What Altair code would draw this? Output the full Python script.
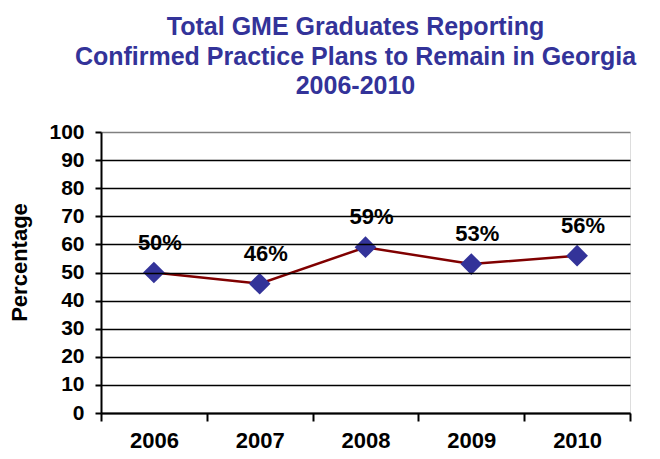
import altair as alt
import pandas as pd

years = ["2006", "2007", "2008", "2009", "2010"]
pct = [50, 46, 59, 53, 56]
y_ticks = [0, 10, 20, 30, 40, 50, 60, 70, 80, 90, 100]

df = pd.DataFrame({"year": years, "pct": pct})

FONT = "Liberation Sans"
NB = "\u00a0"

x_enc = alt.X(
    "year:N",
    sort=years,
    scale=alt.Scale(type="band", paddingInner=0, paddingOuter=0),
    axis=alt.Axis(
        title=None,
        labelAngle=0,
        labelFont=FONT,
        labelFontSize=22,
        labelFontWeight="bold",
        labelColor="black",
        labelPadding=9,
        tickBand="extent",
        tickSize=8,
        tickWidth=2,
        tickColor="black",
        domainColor="black",
        domainWidth=2,
        grid=False,
        zindex=1,
    ),
)

y_enc = alt.Y(
    "pct:Q",
    scale=alt.Scale(domain=[0, 100], nice=False, zero=True),
    axis=alt.Axis(
        values=y_ticks,
        title="Percentage",
        titleFont=FONT,
        titleFontSize=22,
        titleFontWeight="bold",
        titleColor="black",
        titleAngle=270,
        titleAlign="center",
        titleBaseline="middle",
        titleX=-82,
        titleY=130,
        labelFont=FONT,
        labelFontSize=21,
        labelFontWeight="bold",
        labelColor="black",
        labelPadding=11,
        tickSize=6,
        tickWidth=2,
        tickColor="black",
        domainColor="black",
        domainWidth=2,
        grid=True,
        gridColor={"condition": {"test": "datum.value == 100", "value": "#808080"}, "value": "black"},
        gridWidth=1.6,
        zindex=1,
    ),
)

base = alt.Chart(df).encode(x=x_enc, y=y_enc)

line = base.mark_line(color="#800000", strokeWidth=2.5)
points = base.mark_point(
    shape="diamond", size=470, filled=True, color="#333399", opacity=1
)
labels = base.transform_calculate(label="datum.pct + '%'").mark_text(
    font=FONT, fontSize=22, fontWeight="bold", color="black", dx=6, dy=-30,
    baseline="middle",
).encode(text="label:N")

chart = (
    alt.layer(line, points, labels)
    .properties(
        width=529,
        height=281,
        autosize=alt.AutoSizeParams(type="none"),
        padding={"left": 93, "top": 124, "right": 22, "bottom": 38},
        title=alt.Title(
            text=[
                "Total GME Graduates Reporting" + NB * 3,
                "Confirmed Practice Plans to Remain in Georgia",
                "2006-2010",
            ],
            font=FONT,
            fontSize=25,
            fontWeight="bold",
            color="#333399",
            lineHeight=29.5,
            anchor="middle",
            dx=-10,
            offset=2,
            baseline="alphabetic",
        ),
    )
    .configure_view(stroke="#808080", strokeWidth=2)
    .configure(background="white")
)

chart.save("out.html", embed_options={"renderer": "svg", "actions": False})
